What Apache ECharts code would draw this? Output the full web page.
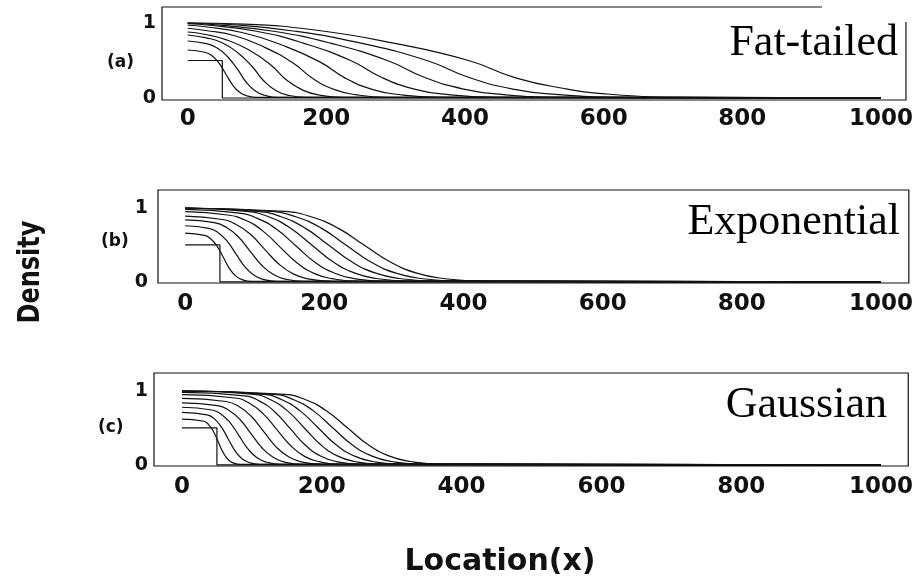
<!DOCTYPE html>
<html>
<head>
<meta charset="utf-8">
<script src="https://cdn.jsdelivr.net/npm/echarts@6/dist/echarts.min.js"></script>
<style>html,body{margin:0;padding:0;background:#fff}#c{width:916px;height:585px}</style>
</head>
<body>
<div id="c"></div>
<script>
const xTicks = [0, 200, 400, 600, 800, 1000];
const yTicks = [0, 1];
const panelLetters = ['(a)', '(b)', '(c)'];
const panelNames = ['Fat-tailed', 'Exponential', 'Gaussian'];
const initialX = [0, 50, 50, 1000];
const initialY = [0.5, 0.5, 0, 0];

const fatTailed = [
  [[0,0.64],[25,0.61],[35,0.564],[45,0.468],[55,0.32],[65,0.172],[75,0.076],[85,0.03],[100,0.007],[1000,0]],
  [[0,0.76],[27,0.724],[42,0.67],[57,0.556],[72,0.38],[85,0.204],[98,0.09],[111,0.036],[131,0.008],[1000,0]],
  [[0,0.84],[27,0.801],[49,0.74],[71,0.614],[93,0.42],[110,0.226],[127,0.1],[144,0.039],[170,0.009],[1000,0]],
  [[0,0.88],[24,0.85],[56,0.775],[88,0.643],[120,0.44],[143,0.237],[166,0.105],[189,0.041],[224,0.01],[1000,0]],
  [[0,0.93],[26,0.9],[68,0.83],[110,0.68],[152,0.465],[182,0.25],[212,0.111],[242,0.044],[287,0.01],[1000,0]],
  [[0,0.97],[25,0.95],[80,0.87],[135,0.709],[190,0.485],[228,0.261],[266,0.115],[304,0.046],[361,0.011],[1000,0]],
  [[0,0.99],[31,0.97],[99,0.89],[167,0.731],[235,0.5],[281,0.269],[327,0.119],[373,0.047],[442,0.011],[1000,0]],
  [[0,1],[42,0.975],[124,0.89],[206,0.731],[288,0.5],[343,0.269],[398,0.119],[453,0.047],[536,0.011],[1000,0]],
  [[0,1],[60,0.98],[155,0.89],[250,0.731],[345,0.5],[407,0.269],[469,0.119],[531,0.047],[624,0.011],[1000,0]],
  [[0,1],[81,0.985],[189,0.9],[297,0.731],[405,0.5],[473,0.269],[541,0.13],[609,0.05],[711,0.011],[1000,0]]
];

const exponential = [
  [[0,0.66],[28,0.629],[37,0.581],[46,0.482],[55,0.33],[64,0.178],[73,0.079],[82,0.031],[96,0.007],[1000,0]],
  [[0,0.76],[34,0.724],[47,0.67],[60,0.556],[73,0.38],[86,0.204],[99,0.09],[112,0.036],[132,0.008],[1000,0]],
  [[0,0.84],[42,0.801],[59,0.74],[76,0.614],[93,0.42],[110,0.226],[127,0.1],[144,0.039],[170,0.009],[1000,0]],
  [[0,0.89],[51,0.848],[72,0.784],[93,0.651],[114,0.445],[135,0.239],[156,0.106],[177,0.042],[209,0.01],[1000,0]],
  [[0,0.95],[61,0.905],[86,0.837],[111,0.694],[136,0.475],[161,0.256],[186,0.113],[211,0.045],[249,0.01],[1000,0]],
  [[0,0.98],[75,0.934],[103,0.863],[131,0.716],[159,0.49],[187,0.264],[215,0.117],[243,0.046],[285,0.011],[1000,0]],
  [[0,1],[89,0.953],[120,0.881],[151,0.731],[182,0.5],[213,0.269],[244,0.119],[275,0.047],[322,0.011],[1000,0]],
  [[0,1],[104,0.953],[138,0.881],[172,0.731],[206,0.5],[240,0.269],[274,0.119],[308,0.047],[359,0.011],[1000,0]],
  [[0,1],[123,0.953],[159,0.881],[195,0.731],[231,0.5],[267,0.269],[303,0.119],[339,0.047],[393,0.011],[1000,0]],
  [[0,1],[143,0.953],[181,0.881],[219,0.731],[257,0.5],[295,0.269],[333,0.119],[371,0.047],[428,0.011],[1000,0]]
];

const gaussian = [
  [[0,0.62],[31,0.591],[38,0.546],[45,0.453],[52,0.31],[59,0.167],[66,0.074],[73,0.029],[84,0.007],[1000,0]],
  [[0,0.71],[36,0.677],[46,0.626],[56,0.519],[66,0.355],[76,0.191],[86,0.084],[96,0.033],[111,0.008],[1000,0]],
  [[0,0.78],[43,0.743],[56,0.687],[69,0.57],[82,0.39],[95,0.21],[108,0.093],[121,0.037],[141,0.009],[1000,0]],
  [[0,0.84],[51,0.801],[67,0.74],[83,0.614],[99,0.42],[115,0.226],[131,0.1],[147,0.039],[171,0.009],[1000,0]],
  [[0,0.9],[63,0.858],[81,0.793],[99,0.658],[117,0.45],[135,0.242],[153,0.107],[171,0.042],[198,0.01],[1000,0]],
  [[0,0.95],[76,0.905],[96,0.837],[116,0.694],[136,0.475],[156,0.256],[176,0.113],[196,0.045],[226,0.01],[1000,0]],
  [[0,0.98],[89,0.934],[111,0.863],[133,0.716],[155,0.49],[177,0.264],[199,0.117],[221,0.046],[254,0.011],[1000,0]],
  [[0,1],[103,0.953],[127,0.881],[151,0.731],[175,0.5],[199,0.269],[223,0.119],[247,0.047],[283,0.011],[1000,0]],
  [[0,1],[117,0.953],[143,0.881],[169,0.731],[195,0.5],[221,0.269],[247,0.119],[273,0.047],[312,0.011],[1000,0]],
  [[0,1],[132,0.953],[160,0.881],[188,0.731],[216,0.5],[244,0.269],[272,0.119],[300,0.047],[342,0.011],[1000,0]],
  [[0,1],[147,0.953],[177,0.881],[207,0.731],[237,0.5],[267,0.269],[297,0.119],[327,0.047],[372,0.011],[1000,0]]
];

const panels = [fatTailed, exponential, gaussian];

// layout (pixels) per panel
const layout = [
  {left:162, right:3, top:7,   height:93, xmin:-37, xmax:1036, ymin:-0.027, ymax:1.213, labelMargin:8,  yLabelMargin:6},
  {left:158, right:3, top:190, height:93, xmin:-39, xmax:1040, ymin:-0.014, ymax:1.243, labelMargin:10, yLabelMargin:10},
  {left:154, right:7, top:373, height:93, xmin:-40, xmax:1039, ymin:-0.014, ymax:1.243, labelMargin:10, yLabelMargin:6}
];

const chart = echarts.init(document.getElementById('c'), null, {renderer:'canvas'});
const grids = [], xAxes = [], yAxes = [], series = [];
layout.forEach((L, i) => {
  grids.push({left:L.left, right:L.right, top:L.top, height:L.height, show:true, borderColor:'#111', borderWidth:1.2, backgroundColor:'transparent'});
  xAxes.push({type:'value', gridIndex:i, min:L.xmin, max:L.xmax,
    axisLine:{show:false}, splitLine:{show:false}, axisTick:{show:false},
    axisLabel:{customValues:xTicks, formatter:v => String(v), margin:L.labelMargin, color:'#111', fontFamily:'DejaVu Sans', fontWeight:'bold', fontSize:23, showMinLabel:true, showMaxLabel:true}});
  yAxes.push({type:'value', gridIndex:i, min:L.ymin, max:L.ymax,
    axisLine:{show:false}, splitLine:{show:false}, axisTick:{show:false},
    axisLabel:{customValues:yTicks, margin:L.yLabelMargin, color:'#111', fontFamily:'DejaVu Sans', fontWeight:'bold', fontSize:19}});
  series.push({type:'line', xAxisIndex:i, yAxisIndex:i, data:initialX.map((x, k) => [x, initialY[k]]),
    showSymbol:false, silent:true, lineStyle:{color:'#111', width:1.2}});
  panels[i].forEach(curve => {
    series.push({type:'line', xAxisIndex:i, yAxisIndex:i, data:curve, smooth:0.5,
      showSymbol:false, silent:true, lineStyle:{color:'#111', width:1.2}});
  });
});

const serif = '"Liberation Serif", "Times New Roman", serif';
const graphic = [
  {type:'rect', z:100, shape:{x:822, y:0, width:94, height:22}, style:{fill:'#fff'}},
  {type:'text', z:101, left:107, top:54, style:{text:panelLetters[0], font:'bold 17px "DejaVu Sans"', fill:'#111'}},
  {type:'text', z:101, left:101, top:233, style:{text:panelLetters[1], font:'bold 17px "DejaVu Sans"', fill:'#111'}},
  {type:'text', z:101, left:98, top:419, style:{text:panelLetters[2], font:'bold 17px "DejaVu Sans"', fill:'#111'}},
  {type:'text', z:101, x:898, y:43, style:{text:panelNames[0], font:'44px ' + serif, fill:'#000', align:'right', verticalAlign:'middle'}},
  {type:'text', z:101, x:900, y:222, style:{text:panelNames[1], font:'44px ' + serif, fill:'#000', align:'right', verticalAlign:'middle'}},
  {type:'text', z:101, x:887, y:405, style:{text:panelNames[2], font:'44px ' + serif, fill:'#000', align:'right', verticalAlign:'middle'}},
  {type:'text', z:101, x:31, y:272, rotation:Math.PI/2, scaleX:0.8, style:{text:'Density', font:'bold 30px "DejaVu Sans"', fill:'#111', align:'center', verticalAlign:'middle'}},
  {type:'text', z:101, x:500, y:562, style:{text:'Location(x)', font:'bold 30px "DejaVu Sans"', fill:'#111', align:'center', verticalAlign:'middle'}}
];

chart.setOption({animation:false, backgroundColor:'#fff', grid:grids, xAxis:xAxes, yAxis:yAxes, series:series, graphic:graphic});
</script>
</body>
</html>
